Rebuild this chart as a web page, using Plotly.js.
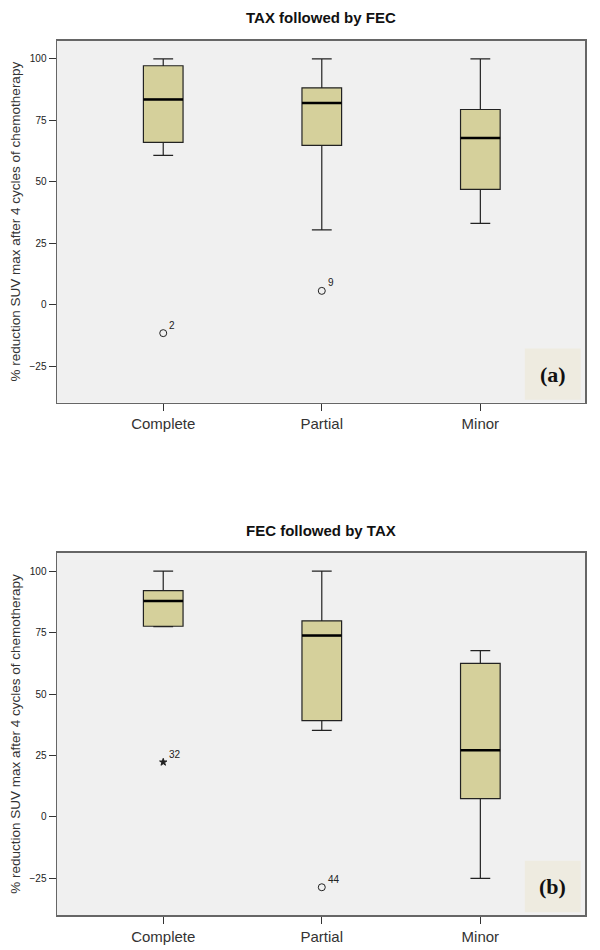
<!DOCTYPE html>
<html>
<head>
<meta charset="utf-8">
<script src="https://cdn.plot.ly/plotly-3.0.1.min.js"></script>
<style>
  body { margin: 0; background: #fff; }
  #chart { width: 600px; height: 950px; }
</style>
</head>
<body>
<div id="chart"></div>
<script>
// categories and five-number summaries
const categories = ["Complete", "Partial", "Minor"];
const catPos = [0, 1, 2];

// (a) TAX followed by FEC
const taxLower = [60.7, 30.4, 33.1];
const taxQ1 = [66.0, 64.8, 46.9];
const taxMedian = [83.5, 82.0, 67.8];
const taxQ3 = [97.2, 88.2, 79.4];
const taxUpper = [100, 100, 100];
const taxOutX = [0, 1];
const taxOutY = [-11.6, 5.6];
const taxOutLabel = ["2", "9"];

// (b) FEC followed by TAX
const fecLower = [77.4, 35.2, -25];
const fecQ1 = [77.6, 39.2, 7.5];
const fecMedian = [87.9, 73.8, 27.1];
const fecQ3 = [92.1, 79.8, 62.5];
const fecUpper = [100, 100, 67.7];
const fecOutX = [1];
const fecOutY = [-28.6];
const fecOutLabel = ["44"];
const fecExtX = [0];
const fecExtY = [22.3];
const fecExtLabel = ["32"];

const boxWidth = 0.25;
const boxFill = "#d5d09b";
const font = "Liberation Sans, Arial, sans-serif";

function boxTrace(q1, med, q3, lo, hi, xa, ya) {
  return {
    type: "box",
    x: catPos,
    q1: q1, median: med, q3: q3, lowerfence: lo, upperfence: hi,
    width: boxWidth,
    whiskerwidth: 0.5,
    fillcolor: boxFill,
    line: { color: "#222", width: 1.2 },
    boxpoints: false,
    hoverinfo: "skip",
    xaxis: xa, yaxis: ya,
    showlegend: false,
  };
}

// thick median bar like SPSS draws it
function medianTrace(med, xa, ya) {
  const xs = [], ys = [];
  med.forEach((m, i) => {
    xs.push(catPos[i] - boxWidth / 2, catPos[i] + boxWidth / 2, null);
    ys.push(m, m, null);
  });
  return {
    type: "scatter", mode: "lines", x: xs, y: ys,
    line: { color: "#000", width: 2.5 },
    hoverinfo: "skip", xaxis: xa, yaxis: ya, showlegend: false,
  };
}

function outlierTrace(xs, ys, symbol, size, xa, ya) {
  return {
    type: "scatter", mode: "markers", x: xs, y: ys,
    marker: { symbol: symbol, size: size, color: "#222", line: { color: "#222", width: 1 } },
    hoverinfo: "skip", xaxis: xa, yaxis: ya, showlegend: false,
  };
}

// case numbers next to the outliers, SPSS style (small, upper right)
function outlierLabels(xs, ys, labels, xa, ya) {
  return xs.map((x, i) => ({
    text: labels[i], x: x, y: ys[i], xref: xa, yref: ya,
    showarrow: false, xanchor: "left", yanchor: "middle",
    xshift: 4, yshift: 8,
    font: { family: font, size: 10, color: "#222" },
  }));
}

const traces = [
  boxTrace(taxQ1, taxMedian, taxQ3, taxLower, taxUpper, "x", "y"),
  medianTrace(taxMedian, "x", "y"),
  outlierTrace(taxOutX, taxOutY, "circle-open", 7, "x", "y"),
  boxTrace(fecQ1, fecMedian, fecQ3, fecLower, fecUpper, "x2", "y2"),
  medianTrace(fecMedian, "x2", "y2"),
  outlierTrace(fecOutX, fecOutY, "circle-open", 7, "x2", "y2"),
  outlierTrace(fecExtX, fecExtY, "star", 5.5, "x2", "y2"),
];

const yTitle = "% reduction SUV max after 4 cycles of chemotherapy";

function xAxis(anchor) {
  return {
    anchor: anchor,
    domain: [0, 1],
    range: [-0.67, 2.66],
    tickvals: catPos,
    ticktext: categories,
    ticks: "outside", ticklen: 7, tickcolor: "#333", tickwidth: 1,
    tickfont: { family: font, size: 15, color: "#333" },
    showgrid: false, zeroline: false,
    showline: true, mirror: true, linecolor: "#666", linewidth: 1.5,
    fixedrange: true,
  };
}

function yAxis(anchor, domain) {
  return {
    anchor: anchor,
    domain: domain,
    range: [-39.9, 107.4],
    tickvals: [-25, 0, 25, 50, 75, 100],
    ticks: "outside", ticklen: 7, tickcolor: "#333", tickwidth: 1,
    tickfont: { family: font, size: 10, color: "#222" },
    title: { text: yTitle, font: { family: font, size: 13.5, color: "#333" }, standoff: 6 },
    showgrid: false, zeroline: false,
    showline: true, mirror: true, linecolor: "#666", linewidth: 1.5,
    fixedrange: true,
  };
}

function panelTag(label, xd, yd) {
  return {
    shape: {
      type: "rect", xref: xd, yref: yd,
      x0: 0.886, x1: 0.992, y0: 0.008, y1: 0.15,
      fillcolor: "#eeebe0", line: { width: 0 }, layer: "above",
    },
    note: {
      text: "<b>" + label + "</b>", xref: xd, yref: yd,
      x: 0.939, y: 0.079, xanchor: "center", yanchor: "middle", showarrow: false,
      font: { family: "Liberation Serif, Times New Roman, serif", size: 22, color: "#111" },
    },
  };
}

const tagA = panelTag("(a)", "x domain", "y domain");
const tagB = panelTag("(b)", "x2 domain", "y2 domain");

const layout = {
  width: 600,
  height: 950,
  margin: { l: 57, r: 15, t: 0, b: 0 },
  paper_bgcolor: "#fff",
  plot_bgcolor: "#f0f0f0",
  xaxis: xAxis("y"),
  yaxis: yAxis("x", [0.5761, 0.9572]),
  xaxis2: xAxis("y2"),
  yaxis2: yAxis("x2", [0.0368, 0.4179]),
  shapes: [tagA.shape, tagB.shape],
  annotations: [
    {
      text: "<b>TAX followed by FEC</b>", xref: "x domain", yref: "paper",
      x: 0.5, y: 1 - 17 / 950, xanchor: "center", yanchor: "middle", showarrow: false,
      font: { family: font, size: 15, color: "#111" },
    },
    {
      text: "<b>FEC followed by TAX</b>", xref: "x2 domain", yref: "paper",
      x: 0.5, y: 1 - 530 / 950, xanchor: "center", yanchor: "middle", showarrow: false,
      font: { family: font, size: 15, color: "#111" },
    },
    tagA.note,
    tagB.note,
  ]
    .concat(outlierLabels(taxOutX, taxOutY, taxOutLabel, "x", "y"))
    .concat(outlierLabels(fecOutX, fecOutY, fecOutLabel, "x2", "y2"))
    .concat(outlierLabels(fecExtX, fecExtY, fecExtLabel, "x2", "y2")),
};

Plotly.newPlot("chart", traces, layout, { displayModeBar: false, staticPlot: true });
</script>
</body>
</html>
